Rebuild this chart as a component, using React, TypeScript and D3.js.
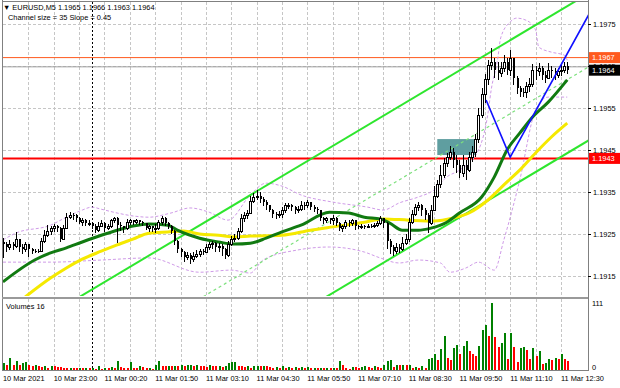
import React from 'react';
import * as d3 from 'd3';

// prices stored in points (1e-5) above 1.19000
const BASE = 1.19;
const PT = 0.00001;
const firstOpenPts = 230;
const closePts = [
  224,217,226,221,236,219,212,224,214,209,
  209,209,233,247,255,262,267,262,236,264,
  290,295,293,286,278,283,274,276,269,259,
  269,276,262,269,281,286,271,267,262,278,
  281,278,281,278,274,264,267,262,264,278,
  288,276,269,257,233,214,205,195,200,190,
  197,202,209,207,219,224,228,217,221,212,
  200,226,236,240,255,288,293,300,328,336,
  340,331,324,317,307,297,295,297,307,317,
  319,312,305,309,319,317,324,314,309,305,
  288,283,286,281,288,276,264,267,278,274,
  281,269,267,269,267,269,269,271,276,286,
  274,231,219,209,217,214,228,236,278,297,
  312,319,305,295,276,307,340,367,390,419,
  431,443,426,412,393,414,402,431,445,474,
  533,581,617,652,659,640,633,645,659,640,
  669,621,597,588,586,602,607,640,636,645,
  628,621,640,636,628,636,640,650,640,
];
const highPts = [
  240,231,236,231,255,231,226,231,226,217,
  214,214,240,259,271,269,274,271,267,271,
  300,302,300,297,290,288,286,283,278,274,
  278,283,278,274,286,290,290,278,269,286,
  286,283,286,283,281,276,271,267,274,283,
  293,290,278,271,259,236,217,209,207,205,
  207,212,214,214,226,231,233,231,228,226,
  217,233,245,250,264,297,302,307,340,347,
  355,350,338,331,319,309,302,305,314,324,
  324,321,317,317,328,326,331,326,319,314,
  307,290,290,288,295,290,278,271,283,283,
  286,283,271,274,271,274,274,276,281,293,
  288,278,238,224,228,226,243,250,288,307,
  321,326,321,312,300,319,364,378,414,431,
  443,459,455,438,426,438,426,445,459,488,
  550,597,631,664,693,669,659,659,676,669,
  688,664,626,602,597,612,621,655,650,657,
  650,638,657,650,645,645,652,659,660,
];
const lowPts = [
  193,207,212,212,217,207,202,207,195,202,
  205,205,207,228,243,247,255,255,231,236,
  262,286,283,278,274,269,269,269,262,252,
  255,267,255,259,264,276,228,257,252,259,
  271,271,274,271,269,259,255,255,252,259,
  271,269,262,250,224,205,195,183,188,178,
  183,193,195,200,205,212,214,207,207,197,
  190,195,221,231,236,252,278,286,297,324,
  331,324,317,307,302,288,286,288,288,300,
  309,305,297,300,305,307,312,307,302,297,
  281,274,276,274,271,269,257,255,262,267,
  269,259,262,262,262,264,264,264,267,271,
  264,214,202,197,202,205,209,224,231,274,
  293,305,293,283,252,271,305,336,360,383,
  409,426,407,395,383,386,378,397,421,433,
  467,526,562,605,640,621,617,624,636,628,
  626,605,583,576,576,574,588,600,617,626,
  617,609,619,621,617,621,626,633,630,
];
const volumes = [
  12,9,20,8,15,9,12,14,9,7,
  9,7,5,7,4,7,6,5,5,4,
  3,4,3,3,4,3,4,3,4,2,
  7,2,4,4,5,4,15,5,4,3,
  13,4,3,7,5,3,4,2,8,15,
  7,6,7,6,7,6,8,7,8,9,
  6,8,6,6,5,9,6,6,7,5,
  6,12,13,14,6,6,5,6,4,6,
  7,6,7,6,5,4,5,4,6,3,
  5,4,5,4,5,4,5,3,4,3,
  4,3,4,3,4,3,15,9,3,2,
  5,5,4,5,7,5,4,6,5,4,
  8,15,16,5,8,8,9,8,9,3,
  5,4,6,4,19,20,26,16,35,56,
  20,16,37,42,26,40,48,32,26,23,
  40,66,75,56,111,54,38,45,62,18,
  62,38,14,37,38,33,19,36,23,31,
  10,12,18,16,20,19,26,18,15,
];
const timeLabels = ['10 Mar 2021','10 Mar 23:00','11 Mar 00:20','11 Mar 01:50','11 Mar 03:10','11 Mar 04:30','11 Mar 05:50','11 Mar 07:10','11 Mar 08:30','11 Mar 09:50','11 Mar 11:10','11 Mar 12:30'];
const priceTicks = [1.1915, 1.1925, 1.1935, 1.1945, 1.1955, 1.1965, 1.1975];

const maGreenIdx = [0,10,15,20,25,31,36,41,46,52,55,62,68,73,78,83,88,94,103,109,114,119,122,126,131,135,140,144,151,155,159,163,167,172,178];
const maGreenPts = [136,188,205,217,231,247,259,269,274,271,259,240,231,226,228,240,255,271,302,300,290,286,276,259,259,264,278,300,338,386,450,490,528,564,617];
const maYellowIdx = [7,15,20,25,31,36,41,46,52,57,62,68,73,78,88,97,104,114,120,128,136,142,147,153,159,163,168,173,178];
const maYellowPts = [100,145,169,190,209,224,238,252,255,257,250,247,243,245,247,259,267,278,286,283,281,288,300,331,374,402,443,481,514];
const bandUpIdx = [0,4,15,20,25,28,31,36,41,46,53,59,65,71,78,83,88,94,104,115,120,125,131,136,140,144,150,153,154,156,157,160,162,165,168,169,173,177,178];
const bandUpPts = [236,252,271,290,307,314,309,300,293,290,300,312,302,283,343,371,364,343,326,314,307,324,338,355,386,402,450,538,593,664,717,755,764,759,736,695,683,676,664];
const bandLoIdx = [0,15,31,46,62,72,78,82,93,103,114,119,125,131,138,141,146,150,155,158,163,168,172,178];
const bandLoPts = [183,183,188,193,159,164,157,188,212,219,207,193,181,188,181,159,169,183,164,236,378,545,576,576];

const channelAnchorBar = 25;
const channelAnchorPrice = 1.19104;
const channelSlope = 0.000045; // per bar
const channelSize = 0.0035;
const redLevel = 1.1943;
const orangeLevel = 1.1967;
const bidPrice = 1.1964;
const askLinePrice = 1.19648;
const boxBars = [137, 149];
const boxPrices = [1.19438, 1.19476];
const zigBars = [152.4, 160, 185.2];
const zigPrices = [1.19569, 1.19433, 1.19778];
const daySepBar = 28;

const W = 620, H = 388;
const L = 3, R = 588, MT = 2, MB = 296, VT = 299, VB = 370;
const FONT = 'Liberation Sans, Arial, DejaVu Sans, sans-serif';
const FS = 7.4;

export default function App() {
  const x = d3.scaleLinear().domain([0, 178]).range([3, 3 + 178 * 3.17]);
  const y = d3.scaleLinear().domain([1.1915, 1.1975]).range([276, 24]);
  const yv = d3.scaleLinear().domain([0, 111]).range([VB, 303]);
  const P = (v: number) => BASE + v * PT;

  const candles = closePts.map((c, i) => {
    const o = i === 0 ? firstOpenPts : closePts[i - 1];
    const h = Math.max(highPts[i], o, c);
    const l = Math.min(lowPts[i], o, c);
    return { i, o: P(o), c: P(c), h: P(h), l: P(l) };
  });

  const lineGen = d3.line<[number, number]>().x(d => x(d[0])).y(d => y(d[1])).curve(d3.curveMonotoneX);
  const mk = (idx: number[], pts: number[]) => lineGen(idx.map((b, k) => [b, P(pts[k])] as [number, number])) || '';

  const chan = (off: number) => {
    const b0 = -10, b1 = 200;
    const p = (b: number) => channelAnchorPrice + channelSlope * (b - channelAnchorBar) - off;
    return `M${x(b0)},${y(p(b0))}L${x(b1)},${y(p(b1))}`;
  };

  const gridBars: number[] = [];
  for (let b = 8; x(b) < R - 3; b += 8) gridBars.push(b);

  const zig = zigBars.map((b, k) => `${k ? 'L' : 'M'}${x(b)},${y(zigPrices[k])}`).join('');

  const priceBox = (p: number, fill: string, label: string) => (
    <g key={label + fill}>
      <rect x={589} y={y(p) - 5.5} width={31} height={11} fill={fill} />
      <text x={592} y={y(p) + 2.7} fill="#fff" fontSize={FS} fontFamily={FONT}>{label}</text>
    </g>
  );

  return (
    <svg width={W} height={H} style={{ position: 'fixed', left: 0, top: 0, background: '#fff' }}>
      <defs>
        <clipPath id="mainClip"><rect x={L} y={MT} width={R - L} height={MB - MT} /></clipPath>
        <clipPath id="volClip"><rect x={L} y={VT} width={R - L} height={VB - VT} /></clipPath>
      </defs>
      <rect x={0} y={0} width={W} height={H} fill="#fff" />
      <g stroke="#c6c6c6" strokeWidth={1} strokeDasharray="3,2" shapeRendering="crispEdges">
        {priceTicks.map(p => <line key={p} x1={L} x2={R} y1={Math.round(y(p)) + 0.5} y2={Math.round(y(p)) + 0.5} />)}
        {gridBars.map(b => (
          <g key={b}>
            <line x1={Math.round(x(b)) + 0.5} x2={Math.round(x(b)) + 0.5} y1={MT} y2={MB} />
            <line x1={Math.round(x(b)) + 0.5} x2={Math.round(x(b)) + 0.5} y1={VT} y2={VB} />
          </g>
        ))}
      </g>
      <line x1={Math.round(x(daySepBar)) + 0.5} x2={Math.round(x(daySepBar)) + 0.5} y1={MT} y2={VB} stroke="#000" strokeDasharray="2,2" shapeRendering="crispEdges" />

      <g clipPath="url(#mainClip)">
        <rect x={x(boxBars[0])} y={y(boxPrices[1])} width={x(boxBars[1]) - x(boxBars[0])} height={y(boxPrices[0]) - y(boxPrices[1])} fill="#5f9ea0" />
        <line x1={L} x2={R} y1={y(orangeLevel)} y2={y(orangeLevel)} stroke="#ff5a1e" strokeWidth={1} />
        <line x1={L} x2={R} y1={y(askLinePrice)} y2={y(askLinePrice)} stroke="#a0a0a0" strokeWidth={1} />
        <line x1={L} x2={R} y1={y(redLevel)} y2={y(redLevel)} stroke="#ff0000" strokeWidth={2} />
        <path d={mk(bandUpIdx, bandUpPts)} fill="none" stroke="#cf9be8" strokeWidth={1} strokeDasharray="3,2" />
        <path d={mk(bandLoIdx, bandLoPts)} fill="none" stroke="#cf9be8" strokeWidth={1} strokeDasharray="3,2" />
        <path d={chan(0)} stroke="#2ee62e" strokeWidth={2} fill="none" />
        <path d={chan(channelSize)} stroke="#2ee62e" strokeWidth={2} fill="none" />
        <path d={chan(channelSize / 2)} stroke="#7de07d" strokeWidth={1.2} strokeDasharray="3,3" fill="none" />
        <path d={mk(maYellowIdx, maYellowPts)} fill="none" stroke="#f5e900" strokeWidth={3} />
        <path d={mk(maGreenIdx, maGreenPts)} fill="none" stroke="#117a11" strokeWidth={3} />
        <g shapeRendering="crispEdges">
          {candles.map(d => {
            const cx = Math.round(x(d.i));
            const top = y(Math.max(d.o, d.c));
            const bot = y(Math.min(d.o, d.c));
            const bull = d.c > d.o;
            return (
              <g key={d.i}>
                <line x1={cx + 0.5} x2={cx + 0.5} y1={y(d.h)} y2={y(d.l)} stroke="#000" strokeWidth={1} />
                {bull
                  ? <rect x={cx - 0.5} y={top} width={2} height={Math.max(bot - top, 1)} fill="#fff" stroke="#000" strokeWidth={1} />
                  : <rect x={cx - 0.5} y={top - 0.5} width={2} height={Math.max(bot - top, 1)} fill="#000" />}
              </g>
            );
          })}
        </g>
        <path d={zig} fill="none" stroke="#1010ff" strokeWidth={1.6} />
      </g>

      <g clipPath="url(#volClip)" shapeRendering="crispEdges">
        {volumes.map((v, i) => (
          <rect key={i} x={Math.round(x(i)) - 0.5} y={yv(v)} width={2} height={VB - yv(v)}
            fill={i === 0 || v > volumes[i - 1] ? '#008000' : '#ff0000'} />
        ))}
      </g>

      <g fill="none" stroke="#808080" shapeRendering="crispEdges">
        <line x1={2.5} x2={2.5} y1={0} y2={VB + 1} strokeWidth={1} />
        <line x1={R + 0.5} x2={R + 0.5} y1={0} y2={VB + 1} strokeWidth={1} />
        <line x1={2} x2={R} y1={1.5} y2={1.5} />
        <rect x={2} y={296.5} width={R - 2} height={2.5} fill="#9a9a9a" stroke="none" />
        <line x1={2} x2={R} y1={VB + 0.5} y2={VB + 0.5} />
      </g>

      <g fontFamily={FONT} fontSize={FS} fill="#000">
        {priceTicks.map(p => (
          <g key={p}>
            <line x1={R} x2={R + 3} y1={Math.round(y(p)) + 0.5} y2={Math.round(y(p)) + 0.5} stroke="#000" shapeRendering="crispEdges" />
            <text x={593} y={y(p) + 2.7}>{p.toFixed(4)}</text>
          </g>
        ))}
        {priceBox(orangeLevel, '#ff5a1e', orangeLevel.toFixed(4))}
        {priceBox(bidPrice, '#000', bidPrice.toFixed(4))}
        {priceBox(redLevel, '#ff0000', redLevel.toFixed(4))}
        <text x={592} y={306}>111</text>
        <text x={592} y={370}>0</text>
        {timeLabels.map((t, k) => (
          <text key={t} x={x(k * 16)} y={381}>{t}</text>
        ))}
        <text x={3} y={9.5}>▼ EURUSD,M5  1.1965 1.1966 1.1963 1.1964</text>
        <text x={8} y={20}>Channel size = 35 Slope = 0.45</text>
        <text x={6} y={309}>Volumes 16</text>
      </g>
    </svg>
  );
}
